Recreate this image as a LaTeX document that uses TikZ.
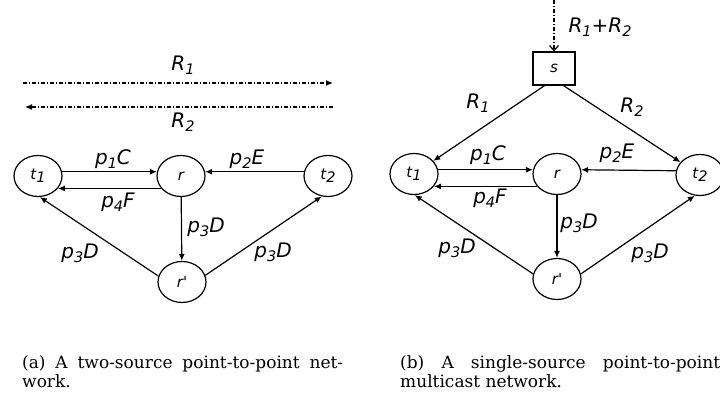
\documentclass[tikz,border=0pt]{standalone}
\usepackage{fontspec}
\newfontfamily\lblfont{DejaVu Sans}
\newfontfamily\capserif{DejaVu Serif}
\usetikzlibrary{arrows.meta,shapes.geometric}

% lowered, smaller digit for edge labels
\newcommand\lowix[1]{\raisebox{-0.35ex}{\fontsize{14.5}{14.5}\selectfont #1}}
\newcommand\capfont{\capserif\fontsize{17}{19}\selectfont}

\begin{document}
\begin{tikzpicture}[x=1pt,y=1pt,
  nd/.style={ellipse, draw, line width=1.2pt, minimum width=48pt, minimum height=41pt,
             inner sep=0pt, font=\lblfont\itshape\fontsize{15}{15}\selectfont},
  srcbox/.style={rectangle, draw, line width=1.2pt, minimum width=42pt, minimum height=33pt,
             inner sep=0pt, font=\lblfont\itshape\fontsize{15}{15}\selectfont},
  lab/.style={inner sep=0pt, font=\lblfont\itshape\fontsize{20}{20}\selectfont},
  arr/.style={-{Latex[length=7pt,width=6pt]}, line width=1.2pt},
  rate/.style={line width=1.2pt, dash pattern=on 4pt off 2pt on 1pt off 2pt},
  captext/.style={inner sep=0pt, anchor=north west, align=left, font=\capfont}]
\useasboundingbox (0,0) rectangle (720,396);

% ---------------- (a) two-source network ----------------
\node[nd] (t1a) at (38,220)  {t\lowix{1}};
\node[nd] (ra)  at (181,220) {r};
\node[nd] (t2a) at (328,220) {t\lowix{2}};
\node[nd] (rpa) at (182,114) {r'};

\coordinate (r1s) at (23,313);
\coordinate (r1e) at (333,313);
\coordinate (r2s) at (333,289);
\coordinate (r2e) at (25,289);
\draw[rate, -{Latex[length=7pt,width=6pt]}] (r1s) -- (r1e);
\draw[rate, -{Latex[length=7pt,width=6pt]}] (r2s) -- (r2e);
\node[lab] (lr1a) at (183,331) {R\lowix{1}};
\node[lab] (lr2a) at (183,274) {R\lowix{2}};

\draw[arr] (t1a.10)  -- (ra.170);
\draw[arr] (ra.212)  -- (t1a.328);
\draw[arr] (t2a.170) -- (ra.10);
\draw[arr] (ra)      -- (rpa);
\draw[arr] (rpa.166) -- (t1a.275);
\draw[arr] (rpa.16)  -- (t2a.253);

\node[lab] (pca) at (113,237) {p\lowix{1}C};
\node[lab] (pea) at (247,237) {p\lowix{2}E};
\node[lab] (pfa) at (118,194) {p\lowix{4}F};
\node[lab] (pda) at (206,169) {p\lowix{3}D};
\node[lab] (pdl) at (80,143)  {p\lowix{3}D};
\node[lab] (pdr) at (273,144) {p\lowix{3}D};

\node[captext] (capa) at (22,41)
  {\makebox[321pt][s]{(a) A two-source point-to-point net-}\\work.};

% ---------------- (b) single-source multicast network ----------------
\node[srcbox] (s) at (554,327.5) {s};
\coordinate (top) at (554,396);
\draw[line width=1.2pt, dash pattern=on 4pt off 2pt on 1pt off 2pt,
      -{Straight Barb[length=5pt,width=9pt]}] (top) -- (s.north);
\node[lab] (lsum) at (600,369) {R\lowix{1}+R\lowix{2}};

\node[nd] (t1b) at (414,222) {t\lowix{1}};
\node[nd] (rb)  at (557,222) {r};
\node[nd] (t2b) at (700,221) {t\lowix{2}};
\node[nd] (rpb) at (557,117) {r'};

\draw[arr] (s.241) -- (t1b);
\draw[arr] (s.299) -- (t2b);
\node[lab] (lr1b) at (478,293) {R\lowix{1}};
\node[lab] (lr2b) at (632,289) {R\lowix{2}};

\draw[arr] (t1b.10)  -- (rb.170);
\draw[arr] (rb.212)  -- (t1b.328);
\draw[arr] (t2b.170) -- (rb.10);
\draw[arr] (rb)      -- (rpb);
\draw[arr] (rpb.168) -- (t1b.272);
\draw[arr] (rpb.12)  -- (t2b.256);

\node[lab] (pcb) at (488,241) {p\lowix{1}C};
\node[lab] (peb) at (617,243) {p\lowix{2}E};
\node[lab] (pfb) at (490,198) {p\lowix{4}F};
\node[lab] (pdb) at (579,173) {p\lowix{3}D};
\node[lab] (pdbl) at (457,148) {p\lowix{3}D};
\node[lab] (pdbr) at (650,143) {p\lowix{3}D};

\node[captext] (capb) at (400,41)
  {\makebox[320pt][s]{(b) A single-source point-to-point}\\multicast network.};
\end{tikzpicture}
\end{document}
